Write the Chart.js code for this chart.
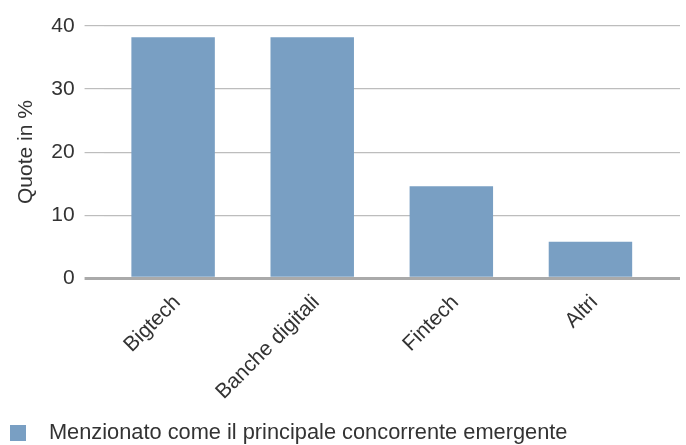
<!DOCTYPE html>
<html>
<head>
<meta charset="utf-8">
<script src="https://cdn.jsdelivr.net/npm/chart.js@4"></script>
<style>
html,body{margin:0;padding:0;background:#fff;}
#wrap{width:686px;height:445px;position:relative;}
</style>
</head>
<body>
<div id="wrap"><canvas id="c" width="686" height="445"></canvas></div>
<script>
const categories = ['Bigtech', 'Banche digitali', 'Fintech', 'Altri'];
const values = [38.2, 38.2, 14.6, 5.8];
const yTickValues = [0, 10, 20, 30, 40];
const seriesName = 'Menzionato come il principale concorrente emergente';
const yTitle = 'Quote in %';

const barColor = '#799fc3';
const textColor = '#333333';
const FONT = '"Liberation Sans", Arial, sans-serif';

// legend marker: square followed by empty space
const marker = document.createElement('canvas');
marker.width = 28; marker.height = 16;
const mctx = marker.getContext('2d');
mctx.fillStyle = barColor;
mctx.fillRect(0, 0, 16, 16);

const gridColor = (ctx) => (ctx.tick && ctx.tick.value === 0) ? '#aaaaaa' : '#bdbdbd';
const gridWidth = (ctx) => (ctx.tick && ctx.tick.value === 0) ? 3 : 1.2;

new Chart(document.getElementById('c'), {
  type: 'bar',
  data: {
    labels: categories,
    datasets: [{
      label: seriesName,
      data: values,
      backgroundColor: barColor,
      borderWidth: 0,
      barPercentage: 0.6,
      categoryPercentage: 1.0
    }]
  },
  options: {
    responsive: false,
    animation: false,
    layout: { padding: { top: 26, right: 6, left: 0, bottom: -9 } },
    plugins: {
      tooltip: { enabled: false },
      legend: {
        position: 'bottom',
        align: 'start',
        labels: {
          usePointStyle: true,
          pointStyle: marker,
          pointStyleWidth: 28,
          boxHeight: 16,
          color: textColor,
          font: { family: FONT, size: 21.8 },
          padding: 10
        }
      }
    },
    scales: {
      x: {
        grid: { display: false, drawTicks: false },
        border: { display: false },
        ticks: {
          color: textColor,
          font: { family: FONT, size: 21 },
          maxRotation: 45,
          minRotation: 45,
          padding: 12,
          labelOffset: 4
        },
        afterFit: (s) => { s.height = 134; }
      },
      y: {
        min: 0, max: 40,
        afterBuildTicks: (s) => { s.ticks = yTickValues.map(v => ({ value: v })); },
        border: { display: false },
        grid: { color: gridColor, lineWidth: gridWidth, drawTicks: true, tickLength: 19 },
        ticks: { color: textColor, font: { family: FONT, size: 21 }, padding: 10 },
        title: {
          display: true, text: yTitle, color: textColor,
          font: { family: FONT, size: 21 },
          padding: { top: 14, bottom: 2 }
        }
      },
      y2: {
        position: 'right',
        min: 0, max: 40,
        afterBuildTicks: (s) => { s.ticks = yTickValues.map(v => ({ value: v })); },
        border: { display: false },
        grid: { drawOnChartArea: false, color: gridColor, lineWidth: gridWidth, drawTicks: true, tickLength: 20 },
        ticks: { display: false }
      }
    }
  }
});
</script>
</body>
</html>
